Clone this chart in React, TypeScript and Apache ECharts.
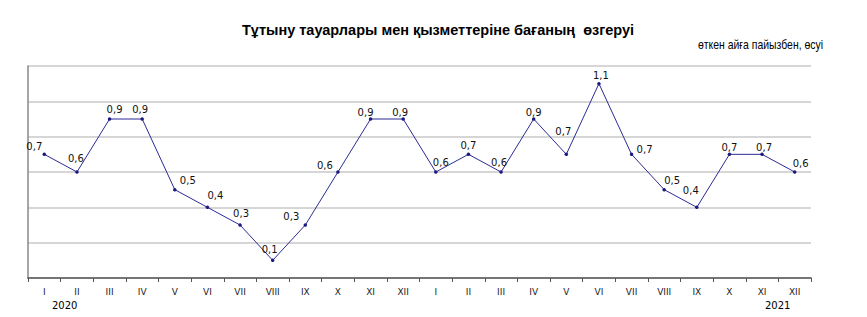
import React, { useEffect, useRef } from "react";
import * as echarts from "echarts";

const months = ["I", "II", "III", "IV", "V", "VI", "VII", "VIII", "IX", "X", "XI", "XII"];
const categories = [...months, ...months];
const values = [
  0.7, 0.6, 0.9, 0.9, 0.5, 0.4, 0.3, 0.1, 0.3, 0.6, 0.9, 0.9,
  0.6, 0.7, 0.6, 0.9, 0.7, 1.1, 0.7, 0.5, 0.4, 0.7, 0.7, 0.6,
];
const years = ["2020", "2021"];
const title = "Тұтыну тауарлары мен қызметтеріне бағаның  өзгеруі";
const subtitle = "өткен айға пайызбен, өсуі";

// label placement tweaks (style only)
const labelOffsets: [number, number][] = [
  [-10, -8], [-1, -14], [5, -10], [-2, -10], [13, -9], [8, -12], [1, -12], [-3, -11], [-14, -9], [-13, -7], [-5, -7], [-3, -7],
  [5, -10], [0, -9], [-2, -10], [0, -7], [-3, -23], [2, -8], [13, -5], [8, -9], [-6, -17], [0, -7], [2, -7], [6, -9],
];

export default function App() {
  const ref = useRef<HTMLDivElement>(null);
  useEffect(() => {
    const chart = echarts.init(ref.current!, null, { renderer: "svg" });
    chart.setOption({
      animation: false,
      backgroundColor: "#ffffff",
      title: {
        text: title,
        left: 229,
        top: 9,
        textStyle: { fontFamily: "Liberation Sans", fontWeight: "bold", fontSize: 14.5, color: "#000" },
      },
      graphic: [
        {
          type: "text",
          x: 815,
          y: 37,
          scaleX: 0.87,
          style: {
            text: subtitle,
            font: "12px 'Liberation Sans'",
            fill: "#000",
            textAlign: "right",
            textVerticalAlign: "middle",
          },
        },
        {
          type: "text",
          left: 44,
          top: 292,
          style: { text: years[0], font: "10px 'DejaVu Sans'", fill: "#000" },
        },
        {
          type: "text",
          left: 757,
          top: 292,
          style: { text: years[1], font: "10px 'DejaVu Sans'", fill: "#000" },
        },
      ],
      grid: { left: 20, right: 56, top: 58, bottom: 39 },
      xAxis: {
        type: "category",
        data: categories,
        boundaryGap: true,
        axisLine: { lineStyle: { color: "#555", width: 1.5 } },
        axisTick: { show: true, alignWithLabel: false, length: 4, lineStyle: { color: "#555" } },
        axisLabel: { interval: 0, margin: 9, fontFamily: "DejaVu Sans", fontSize: 9, color: "#222" },
      },
      yAxis: {
        type: "value",
        min: 0,
        max: 1.2,
        interval: 0.2,
        axisLine: { show: true, lineStyle: { color: "#888", width: 1.5 } },
        axisTick: { show: false },
        axisLabel: { show: false },
        splitLine: { lineStyle: { color: "#c8c8c8", width: 1.5 } },
      },
      series: [
        {
          type: "line",
          data: values.map((v, i) => ({
            value: v,
            label: { offset: labelOffsets[i] },
          })),
          lineStyle: { color: "#2b2b96", width: 1 },
          itemStyle: { color: "#1a1a80" },
          symbol: "circle",
          symbolSize: 3.5,
          label: {
            show: true,
            position: "inside",
            align: "center",
            verticalAlign: "middle",
            fontFamily: "DejaVu Sans",
            fontSize: 10,
            color: "#111",
            formatter: (p: any) => Number(p.value).toFixed(1).replace(".", ","),
          },
        },
      ],
    });
    return () => chart.dispose();
  }, []);
  return <div ref={ref} style={{ width: 859, height: 309 }} />;
}
